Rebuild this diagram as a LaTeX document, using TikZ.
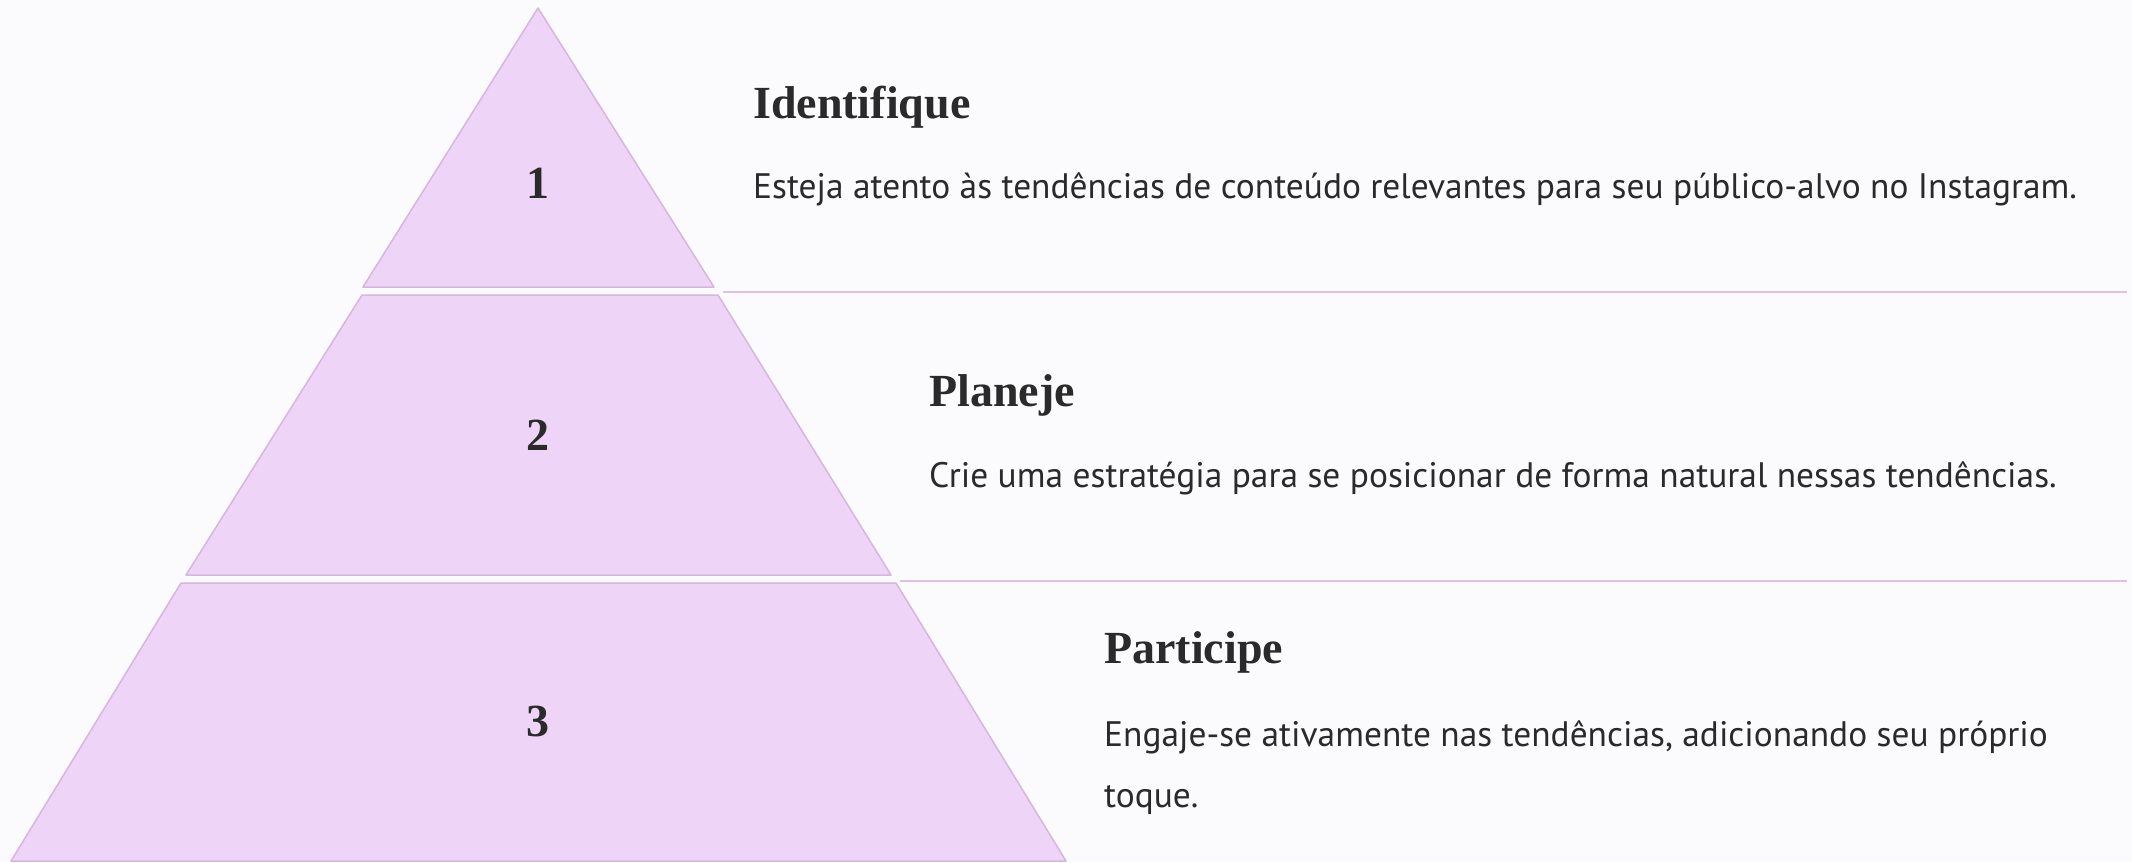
\documentclass[tikz,border=0pt]{standalone}
\usepackage{fontspec}
\setmainfont{Liberation Serif}
\setsansfont{PT Sans}
\definecolor{paper}{HTML}{FBFAFD}
\definecolor{tierfill}{HTML}{EED4F7}
\definecolor{tierline}{HTML}{D6B6E0}
\definecolor{rulecol}{HTML}{DDC2E6}
\definecolor{ink}{HTML}{2A2A2A}
\begin{document}
\begin{tikzpicture}[x=1pt,y=-1pt,
    tier/.style={fill=tierfill, draw=tierline, line width=1.5pt, line join=round},
    rule/.style={draw=rulecol, line width=2pt},
    num/.style={font=\fontsize{46}{50}\selectfont\bfseries, text=ink},
    title/.style={anchor=base west, inner sep=0pt, font=\fontsize{46}{50}\selectfont\bfseries, text=ink},
    body/.style={anchor=base west, inner sep=0pt, font=\sffamily\fontsize{35.4}{61}\selectfont, text=ink}]
    % Background
    \fill[paper] (0,0) rectangle (2132,862);

    % Pyramid tiers
    \draw[tier] (538,8) -- (714,287) -- (363,287) -- cycle;
    \draw[tier] (362,295) -- (718,295) -- (891,575) -- (186,575) -- cycle;
    \draw[tier] (181,583) -- (896,583) -- (1066,861) -- (11,861) -- cycle;

    % Separator rules
    \draw[rule] (723,292) -- (2127,292);
    \draw[rule] (900,581) -- (2127,581);

    % Tier numbers
    \foreach \n/\y in {1/183, 2/435, 3/721} {
        \node[num] (num\n) at (538,\y) {\n};
    }

    % Step texts
    \node[title] (identifique) at (753,118) {Identifique};
    \node[body] (identifiquetxt) at (753,198) {Esteja atento às tendências de conteúdo relevantes para seu público-alvo no Instagram.};

    \node[title] (planeje) at (929,406) {Planeje};
    \node[body] (planejetxt) at (929,487) {Crie uma estratégia para se posicionar de forma natural nessas tendências.};

    \node[title] (participe) at (1104,663) {Participe};
    \node[body] (participetxt) at (1104,746) {Engaje-se ativamente nas tendências, adicionando seu próprio};
    \node[body] (participetxt2) at (1104,807) {toque.};
\end{tikzpicture}
\end{document}
